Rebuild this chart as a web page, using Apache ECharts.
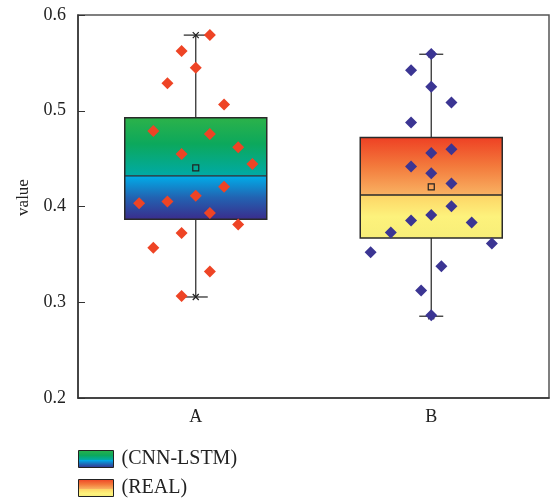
<!DOCTYPE html>
<html>
<head>
<meta charset="utf-8">
<script src="https://cdn.jsdelivr.net/npm/echarts@6/dist/echarts.min.js"></script>
<style>
html,body{margin:0;padding:0;background:#fff;}
#main{width:551px;height:498px;}
</style>
</head>
<body>
<div id="main"></div>
<script>
// ---- data ----
const categories = ['A', 'B'];
const seriesNames = ['(CNN-LSTM)', '(REAL)'];
const yTicks = [0.2, 0.3, 0.4, 0.5, 0.6];
// [min, Q1, median, Q3, max, mean]
const statsA = [0.3055, 0.3867, 0.432, 0.4927, 0.579, 0.4404];
const statsB = [0.2854, 0.367, 0.412, 0.472, 0.559, 0.4206];
// raw points (values) and their jitter slots
const pointsA = [0.579, 0.5624, 0.545, 0.5286, 0.5066, 0.4788, 0.4757, 0.462, 0.4548, 0.4443,
                 0.4206, 0.4033, 0.4053, 0.4112, 0.3931, 0.3813, 0.3722, 0.3568, 0.3322, 0.3066];
const slotsA  = [1, -1, 0, -2, 2, -3, 1, 3, -1, 4, 2, -4, -2, 0, 1, 3, -1, -3, 1, -1];
const pointsB = [0.5592, 0.5422, 0.525, 0.5087, 0.4878, 0.4597, 0.4558, 0.4419, 0.4346, 0.4241,
                 0.4003, 0.3910, 0.3855, 0.3834, 0.3729, 0.3523, 0.3614, 0.3375, 0.3122, 0.2865];
const slotsB  = [0, -2, 0, 2, -2, 2, 0, -2, 0, 2, 2, 0, -2, 4, -4, -6, 6, 1, -1, 0];

// ---- style ----
const slotUnitA = 0.0601;
const slotUnitB = 0.0429;
const boxRatio = 0.603;
const FONT = 'Liberation Serif';
const G = echarts.graphic.LinearGradient;
const gradUpperA = () => new G(0, 0, 0, 1, [{offset: 0, color: '#2cb24a'}, {offset: 0.45, color: '#0ca85c'}, {offset: 1, color: '#00aaa6'}]);
const gradLowerA = () => new G(0, 0, 0, 1, [{offset: 0, color: '#00aee9'}, {offset: 0.5, color: '#2263b2'}, {offset: 1, color: '#3a2d8c'}]);
const gradUpperB = () => new G(0, 0, 0, 1, [{offset: 0, color: '#ee4124'}, {offset: 0.5, color: '#f37a3c'}, {offset: 1, color: '#f9b262'}]);
const gradLowerB = () => new G(0, 0, 0, 1, [{offset: 0, color: '#fdd466'}, {offset: 0.5, color: '#fdf27c'}, {offset: 1, color: '#f7ee78'}]);
const legendGradA = new G(0, 0, 0, 1, [{offset: 0, color: '#2cb24a'}, {offset: 0.3, color: '#0ca85c'}, {offset: 0.55, color: '#00aaa6'}, {offset: 0.56, color: '#00aee9'}, {offset: 0.8, color: '#2263b2'}, {offset: 1, color: '#3a2d8c'}]);
const legendGradB = new G(0, 0, 0, 1, [{offset: 0, color: '#ee4124'}, {offset: 0.3, color: '#f37a3c'}, {offset: 0.55, color: '#f9b262'}, {offset: 0.56, color: '#fdd466'}, {offset: 0.8, color: '#fdf27c'}, {offset: 1, color: '#f7ee78'}]);

function makeRender(upper, lower) {
  return function (params, api) {
    const c = api.value(0);
    const x = api.coord([c, api.value(3)])[0];
    const yMin = api.coord([c, api.value(1)])[1];
    const yQ1 = api.coord([c, api.value(2)])[1];
    const yMed = api.coord([c, api.value(3)])[1];
    const yQ3 = api.coord([c, api.value(4)])[1];
    const yMax = api.coord([c, api.value(5)])[1];
    const yMean = api.coord([c, api.value(6)])[1];
    const bw = api.size([1, 0])[0] * boxRatio;
    const cap = 12, xm = 3;
    const ln = (x1, y1, x2, y2, w, col) => ({type: 'line', shape: {x1, y1, x2, y2}, style: {stroke: col || '#333', lineWidth: w || 1.3}});
    return {
      type: 'group',
      children: [
        ln(x, yQ3, x, yMax), ln(x, yQ1, x, yMin),
        ln(x - cap, yMax, x + cap, yMax), ln(x - cap, yMin, x + cap, yMin),
        ln(x - xm, yMax - xm, x + xm, yMax + xm, 1.2, '#222'), ln(x - xm, yMax + xm, x + xm, yMax - xm, 1.2, '#222'),
        ln(x - xm, yMin - xm, x + xm, yMin + xm, 1.2, '#222'), ln(x - xm, yMin + xm, x + xm, yMin - xm, 1.2, '#222'),
        {type: 'rect', shape: {x: x - bw / 2, y: yQ3, width: bw, height: yMed - yQ3}, style: {fill: upper()}},
        {type: 'rect', shape: {x: x - bw / 2, y: yMed, width: bw, height: yQ1 - yMed}, style: {fill: lower()}},
        {type: 'rect', shape: {x: x - bw / 2, y: yQ3, width: bw, height: yQ1 - yQ3}, style: {fill: 'none', stroke: '#2a2a2a', lineWidth: 1.5}},
        ln(x - bw / 2, yMed, x + bw / 2, yMed, 1.3, '#2a2a2a'),
        {type: 'rect', shape: {x: x - 3, y: yMean - 3, width: 6, height: 6}, style: {fill: 'none', stroke: '#222', lineWidth: 1.2}}
      ]
    };
  };
}

const legendBase = {
  orient: 'vertical', left: 78, padding: 0, icon: 'rect', itemWidth: 35, itemHeight: 17,
  textStyle: {fontFamily: FONT, fontSize: 20, color: '#222', padding: [0, 0, 0, 3]}
};

const chart = echarts.init(document.getElementById('main'), null, {renderer: 'canvas'});
chart.setOption({
  animation: false,
  backgroundColor: '#fff',
  grid: {left: 78, right: 2, top: 15, bottom: 100, show: true, borderColor: '#555', borderWidth: 1.5},
  legend: [
    Object.assign({}, legendBase, {top: 449,
      data: [{name: seriesNames[0], itemStyle: {color: legendGradA, borderColor: '#222', borderWidth: 1}}]}),
    Object.assign({}, legendBase, {top: 478,
      data: [{name: seriesNames[1], itemStyle: {color: legendGradB, borderColor: '#222', borderWidth: 1}}]})
  ],
  xAxis: [
    {type: 'category', data: categories, boundaryGap: true,
     axisLine: {onZero: false, lineStyle: {color: '#333', width: 1.5}},
     axisTick: {inside: true, alignWithLabel: true, length: 6, lineStyle: {color: '#333'}},
     axisLabel: {fontFamily: FONT, fontSize: 18, color: '#222', margin: 10},
     splitLine: {show: false}},
    {type: 'value', min: -0.5, max: 1.5, show: false, axisLine: {onZero: false}}
  ],
  yAxis: {
    type: 'value', min: yTicks[0], max: yTicks[yTicks.length - 1], interval: 0.1,
    name: 'value', nameLocation: 'middle', nameGap: 46,
    nameTextStyle: {fontFamily: FONT, fontSize: 17, color: '#222', padding: [0, 0, 0, 18]},
    axisLine: {show: true, onZero: false, lineStyle: {color: '#333', width: 1.5}},
    axisTick: {show: true, inside: true, length: 7, lineStyle: {color: '#333'}},
    axisLabel: {fontFamily: FONT, fontSize: 18, color: '#222', margin: 12, formatter: v => v.toFixed(1)},
    splitLine: {show: false}
  },
  series: [
    {name: seriesNames[0], type: 'custom', xAxisIndex: 0, renderItem: makeRender(gradUpperA, gradLowerA),
     itemStyle: {color: legendGradA}, encode: {x: 0, y: [1, 2, 3, 4, 5, 6]}, z: 2,
     data: [[0].concat(statsA)]},
    {name: seriesNames[1], type: 'custom', xAxisIndex: 0, renderItem: makeRender(gradUpperB, gradLowerB),
     itemStyle: {color: legendGradB}, encode: {x: 0, y: [1, 2, 3, 4, 5, 6]}, z: 2,
     data: [[1].concat(statsB)]},
    {type: 'scatter', xAxisIndex: 1, symbol: 'diamond', symbolSize: 12, z: 5,
     itemStyle: {color: '#ee4425', opacity: 1},
     data: pointsA.map((v, i) => [0 + slotsA[i] * slotUnitA, v])},
    {type: 'scatter', xAxisIndex: 1, symbol: 'diamond', symbolSize: 12, z: 5,
     itemStyle: {color: '#3b3593', opacity: 1},
     data: pointsB.map((v, i) => [1 + slotsB[i] * slotUnitB, v])}
  ]
});
</script>
</body>
</html>
